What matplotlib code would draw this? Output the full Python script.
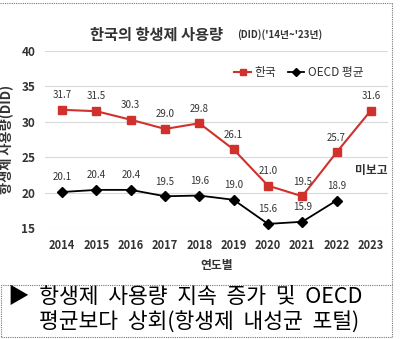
import matplotlib
matplotlib.use("Agg")
import matplotlib.pyplot as plt
from matplotlib.lines import Line2D
from matplotlib.patches import Rectangle

plt.rcParams['font.family'] = ['Noto Sans CJK KR', 'DejaVu Sans']

years = ["2014", "2015", "2016", "2017", "2018", "2019", "2020", "2021", "2022", "2023"]
korea = [31.7, 31.5, 30.3, 29.0, 29.8, 26.1, 21.0, 19.5, 25.7, 31.6]
oecd = [20.1, 20.4, 20.4, 19.5, 19.6, 19.0, 15.6, 15.9, 18.9]
yticks = [15, 20, 25, 30, 35, 40]

red = "#d0312d"
txt = "#333333"

fig = plt.figure(figsize=(4.0, 3.39), dpi=100)
ax = fig.add_axes([0.1125, 0.327, 0.8575, 0.5226])

x = list(range(len(years)))
ax.plot(x, korea, color=red, lw=1.5, marker="s", ms=6, mec=red, mfc=red,
        label="한국", clip_on=False, zorder=3)
ax.plot(x[:len(oecd)], oecd, color="black", lw=1.3, marker="D", ms=5.5,
        label="OECD 평균", clip_on=False, zorder=3)

for i, v in enumerate(korea):
    ax.annotate(f"{v:.1f}", (i, v), xytext=(0, 7), textcoords="offset points",
                ha="center", va="bottom", fontsize=7, color=txt)
for i, v in enumerate(oecd):
    ax.annotate(f"{v:.1f}", (i, v), xytext=(0, 7), textcoords="offset points",
                ha="center", va="bottom", fontsize=7, color=txt)
ax.text(9, 23.2, "미보고", ha="center", va="center", fontsize=8.5,
        fontweight="bold", color=txt)

ax.set_xlim(-0.5, 9.5)
ax.set_ylim(15, 40)
ax.set_yticks(yticks)
ax.set_xticks(x)
ax.set_xticklabels(years)
ax.tick_params(length=0, labelsize=8, labelcolor=txt, pad=8)
ax.tick_params(axis="y", labelsize=8.5, pad=7)
for lab in ax.get_xticklabels() + ax.get_yticklabels():
    lab.set_fontweight("bold")
ax.grid(axis="y", color="#d9d9d9", lw=0.8)
ax.set_axisbelow(True)
for s in ax.spines.values():
    s.set_visible(False)

ax.set_xlabel("연도별", fontsize=8.5, fontweight="bold", color=txt, labelpad=5)
ax.set_ylabel("항생제 사용량(DID)", fontsize=9.5, fontweight="bold", color=txt, labelpad=5)

ax.legend(loc="upper right", bbox_to_anchor=(0.96, 0.975), ncol=2, frameon=False,
          fontsize=8.5, handlelength=1.4, columnspacing=1.0, handletextpad=0.3,
          labelcolor=txt, markerscale=0.8)

fig.text(0.225, 0.897, "한국의 항생제 사용량", fontsize=11, fontweight="bold",
         color=txt, ha="left", va="center")
fig.text(0.592, 0.897, "(DID)('14년~'23년)", fontsize=7, fontweight="bold",
         color=txt, ha="left", va="center")

# borders
fig.add_artist(Line2D([0, 0.98], [0.991, 0.991], transform=fig.transFigure,
                      color="#777777", lw=0.8, ls=(0, (1, 1))))
fig.add_artist(Line2D([0.98, 0.98], [0.991, 0.16], transform=fig.transFigure,
                      color="#777777", lw=0.8, ls=(0, (1, 1))))
fig.add_artist(Rectangle((0.002, 0.006), 0.978, 0.154, transform=fig.transFigure,
                         fill=False, ec="#777777", lw=0.8, ls=(0, (1, 1))))

fig.text(0.4625, 0.124, "▶  항생제  사용량  지속  증가  및  OECD", fontsize=15.5,
         color="black", ha="center", va="center")
fig.text(0.4975, 0.047, "평균보다  상회(항생제  내성균  포털)", fontsize=15.5,
         color="black", ha="center", va="center")

fig.savefig("out.png", dpi=100)
